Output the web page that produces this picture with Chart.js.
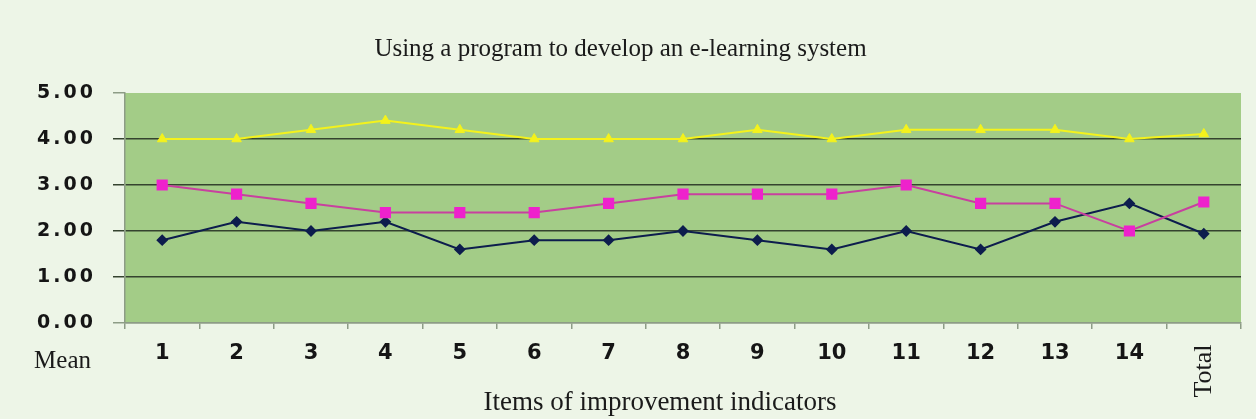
<!DOCTYPE html>
<html><head><meta charset="utf-8">
<script src="https://cdn.jsdelivr.net/npm/chart.js@4/dist/chart.umd.min.js"></script>
<style>html,body{margin:0;padding:0;background:#edf5e7;overflow:hidden}canvas{display:block}</style>
</head><body>
<canvas id="c" width="1256" height="419"></canvas>
<script>
const categories = ['1','2','3','4','5','6','7','8','9','10','11','12','13','14','Total'];
const seriesA = [4.0,4.0,4.2,4.4,4.2,4.0,4.0,4.0,4.2,4.0,4.2,4.2,4.2,4.0,4.11];
const seriesB = [3.0,2.8,2.6,2.4,2.4,2.4,2.6,2.8,2.8,2.8,3.0,2.6,2.6,2.0,2.63];
const seriesC = [1.8,2.2,2.0,2.2,1.6,1.8,1.8,2.0,1.8,1.6,2.0,1.6,2.2,2.6,1.94];
const yMin = 0, yMax = 5, yStep = 1;
const chartTitle = 'Using a program to develop an e-learning system';
const xAxisTitle = 'Items of improvement indicators';
const yAxisTitle = 'Mean';
const rotatedCategory = 'Total';

const SERIF = '"Liberation Serif","DejaVu Serif",serif';
const SANS = '"DejaVu Sans",Verdana,sans-serif';
const GRID_DARK = '#35432f';
const GRID_LIGHT = '#8d9c86';

const decorPlugin = {
  id: 'decor',
  beforeDraw(chart) {
    const {ctx, chartArea: a} = chart;
    ctx.save();
    ctx.fillStyle = '#edf5e7';
    ctx.fillRect(0, 0, chart.width, chart.height);
    ctx.fillStyle = '#a3cc87';
    ctx.fillRect(a.left, a.top, a.right - a.left, a.bottom - a.top);
    ctx.restore();
  },
  afterUpdate(chart) {
    const s = chart.scales.y;
    if (s && !s._spaced) {
      const orig = s.drawLabels.bind(s);
      s.drawLabels = function (area) {
        const c = this.ctx; c.save(); c.letterSpacing = '3px'; orig(area); c.restore();
      };
      s._spaced = true;
    }
  },
  afterDraw(chart) {
    const {ctx} = chart;
    const xs = chart.scales.x;
    ctx.save();
    ctx.fillStyle = '#1a1a1a';
    ctx.textBaseline = 'middle';
    ctx.font = '27px ' + SERIF;
    ctx.textAlign = 'center';
    ctx.fillText(xAxisTitle, 660, 403);
    ctx.font = '25px ' + SERIF;
    ctx.textAlign = 'right';
    ctx.fillText(yAxisTitle, 91, 361);
    const idx = categories.indexOf(rotatedCategory);
    const px = xs.getPixelForTick(idx);
    ctx.translate(px, 371);
    ctx.rotate(-Math.PI / 2);
    ctx.font = '26px ' + SERIF;
    ctx.textAlign = 'center';
    ctx.fillText(rotatedCategory, 0, 0);
    ctx.restore();
  }
};

new Chart(document.getElementById('c'), {
  type: 'line',
  data: {
    labels: categories,
    datasets: [
      { label: 'Series 3', data: seriesA, borderColor: '#f4f21c', backgroundColor: '#f4f21c',
        borderWidth: 2, pointStyle: 'triangle', pointRadius: 5.5, pointBorderWidth: 1, tension: 0 },
      { label: 'Series 2', data: seriesB, borderColor: '#c8409f', backgroundColor: '#ee22cc',
        borderWidth: 2, pointStyle: 'rect', pointRadius: 6.5, pointBorderColor: '#ee22cc', tension: 0 },
      { label: 'Series 1', data: seriesC, borderColor: '#0d1d4d', backgroundColor: '#0d1d4d',
        borderWidth: 2, pointStyle: 'rectRot', pointRadius: 4.5, tension: 0 }
    ]
  },
  options: {
    responsive: false,
    animation: false,
    devicePixelRatio: 1,
    layout: { padding: { left: 0, right: 15, top: 0, bottom: 0 } },
    plugins: {
      legend: { display: false },
      tooltip: { enabled: false },
      title: {
        display: true, text: chartTitle, color: '#1a1a1a',
        font: { family: SERIF, size: 25, weight: 'normal' },
        padding: { top: 34, bottom: 29 }
      }
    },
    scales: {
      x: {
        offset: true,
        afterFit(s) { s.height = 96; },
        border: { display: true, color: GRID_LIGHT, width: 1.5 },
        grid: { offset: true, drawOnChartArea: false, drawTicks: true, tickLength: 6, color: GRID_LIGHT, lineWidth: 1.5 },
        ticks: {
          padding: 12, color: '#151515', maxRotation: 0, autoSkip: false,
          font: { family: SANS, size: 21, weight: 'bold' },
          callback(v, i) { return categories[i] === rotatedCategory ? '' : categories[i]; }
        }
      },
      y: {
        min: yMin, max: yMax,
        afterFit(s) { s.width = 125; },
        border: { display: true, color: GRID_LIGHT, width: 1.5 },
        grid: {
          drawTicks: true, tickLength: 12, lineWidth: 1.5,
          color(ctx) { const v = ctx.tick && ctx.tick.value; return v === yMax ? 'rgba(0,0,0,0)' : (v === yMin ? GRID_LIGHT : GRID_DARK); },
          tickColor(ctx) { const v = ctx.tick && ctx.tick.value; return (v === yMax || v === yMin) ? GRID_LIGHT : GRID_DARK; }
        },
        ticks: {
          stepSize: yStep, padding: 17, color: '#151515',
          font: { family: SANS, size: 19, weight: 'bold' },
          callback(v) { return Number(v).toFixed(2); }
        }
      }
    }
  },
  plugins: [decorPlugin]
});
</script>
</body></html>
